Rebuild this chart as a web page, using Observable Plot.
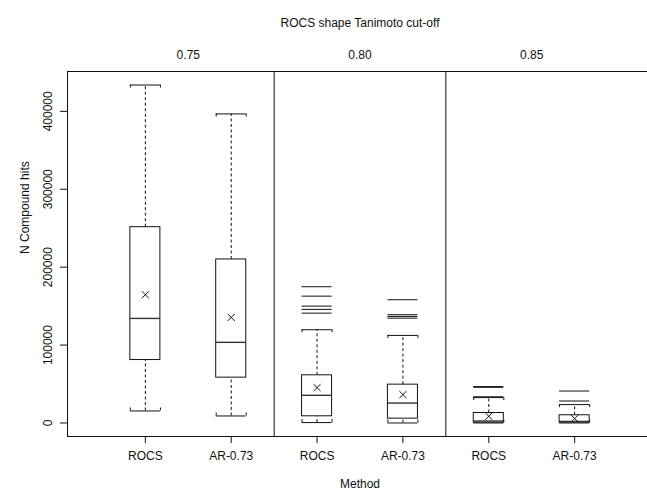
<!DOCTYPE html>
<html>
<head>
<meta charset="utf-8">
<script src="https://cdn.jsdelivr.net/npm/d3@7"></script>
<script src="https://cdn.jsdelivr.net/npm/@observablehq/plot@0.6"></script>
<style>
  html, body { margin: 0; padding: 0; background: #fff; overflow: hidden; width: 647px; height: 493px; }
  #chart { width: 647px; height: 493px; overflow: hidden; }
  #chart svg { display: block; max-width: none !important; width: 660px; height: 493px; }
</style>
</head>
<body>
<div id="chart"></div>
<script>
// ---- data ----
const methods   = ["ROCS", "AR-0.73", "ROCS", "AR-0.73", "ROCS", "AR-0.73"];
const cutoffs   = ["0.75", "0.80", "0.85"];
const positions = [1, 2, 3, 4, 5, 6];
const lowerWhisker = [15400, 9000, 500, 0, 0, 0];
const q1           = [80800, 58200, 8600, 5600, 400, 500];
const median       = [134200, 103500, 35500, 25600, 2500, 2000];
const q3           = [251300, 209900, 61200, 49200, 12800, 9900];
const upperWhisker = [433800, 396700, 119700, 112400, 32600, 23600];
const means        = [164600, 135500, 45400, 36400, 8600, 5600];
const outliers = [
  [],
  [],
  [174900, 162800, 150000, 145800, 141000],
  [158200, 139000, 136800, 134600],
  [46700, 45800, 33600],
  [41000, 28200]
];
const yTicks = [0, 100000, 200000, 300000, 400000];
const dividers = [2.5, 4.5];
const cutoffCenters = [1.5, 3.5, 5.5];

// ---- derived tables ----
const hw = 0.175; // half box width in position units
const boxes = positions.map((p, i) => ({
  p, x1: p - hw, x2: p + hw,
  lo: lowerWhisker[i], q1: q1[i], med: median[i], q3: q3[i], hi: upperWhisker[i], mean: means[i]
}));
const outs = positions.flatMap((p, i) => outliers[i].map(v => ({p, x1: p - hw, x2: p + hw, v})));
const stapleEnds = boxes.flatMap(b => [{x: b.x1, lo: b.lo, hi: b.hi}, {x: b.x2, lo: b.lo, hi: b.hi}]);

const allVals = [...lowerWhisker, ...upperWhisker, ...outliers.flat()];
const yMin = d3.min(allVals), yMax = d3.max(allVals);
const ext = 0.04 * (yMax - yMin);

const font = "Liberation Sans, Arial, Helvetica, sans-serif";
const ink = "#111";

const chart = Plot.plot({
  width: 660,
  height: 493,
  marginLeft: 67,
  marginRight: 8,
  marginTop: 71,
  marginBottom: 57,
  style: {fontFamily: font, fontSize: "12px", color: ink, background: "#fff", maxWidth: "none"},
  x: {domain: [0.093, 6.907], axis: null},
  y: {domain: [yMin - ext, yMax + ext], axis: null},
  marks: [
    // whiskers
    Plot.ruleX(boxes, {x: "p", y1: "q3", y2: "hi", stroke: ink, strokeWidth: 1, strokeDasharray: "3,2.5"}),
    Plot.ruleX(boxes, {x: "p", y1: "lo", y2: "q1", stroke: ink, strokeWidth: 1, strokeDasharray: "3,2.5"}),
    // staples
    Plot.ruleY(boxes, {y: "hi", x1: "x1", x2: "x2", stroke: ink, strokeWidth: 1}),
    Plot.ruleY(boxes, {y: "lo", x1: "x1", x2: "x2", stroke: ink, strokeWidth: 1}),
    Plot.ruleX(stapleEnds, {x: "x", y1: "hi", y2: "hi", insetBottom: -3, stroke: ink, strokeWidth: 1}),
    Plot.ruleX(stapleEnds, {x: "x", y1: "lo", y2: "lo", insetTop: -3, stroke: ink, strokeWidth: 1}),
    // boxes
    Plot.rect(boxes, {x1: "x1", x2: "x2", y1: "q1", y2: "q3", fill: "white", stroke: ink, strokeWidth: 1}),
    Plot.ruleY(boxes, {y: "med", x1: "x1", x2: "x2", stroke: "#333", strokeWidth: 1.4}),
    // means
    Plot.dot(boxes, {x: "p", y: "mean", symbol: "times", r: 3.3, stroke: ink, strokeWidth: 1}),
    // outliers
    Plot.ruleY(outs, {y: "v", x1: "x1", x2: "x2", stroke: ink, strokeWidth: 1}),
    // panel dividers and frame
    Plot.ruleX(dividers, {stroke: ink, strokeWidth: 1}),
    Plot.frame({stroke: ink, strokeWidth: 1}),
    // axes
    Plot.axisX(positions, {anchor: "bottom", tickSize: 7, tickPadding: 8, tickFormat: (d) => methods[d - 1], fontSize: 12, stroke: ink, fill: ink}),
    Plot.axisY(yTicks, {anchor: "left", tickSize: 7, tickPadding: 9, tickRotate: -90, tickFormat: (d) => String(d), fontSize: 12, stroke: ink, fill: ink}),
    // axis titles
    Plot.text(["Method"], {frameAnchor: "bottom", x: () => 3.5, dy: 51, fontSize: 12, fill: ink}),
    Plot.text(["N Compound hits"], {frameAnchor: "left", dx: -42, rotate: -90, fontSize: 12, fill: ink}),
    // top labels
    Plot.text(cutoffs, {x: (d, i) => cutoffCenters[i], frameAnchor: "top", dy: -21, fontSize: 12, fill: ink}),
    Plot.text(["ROCS shape Tanimoto cut-off"], {x: () => 3.5, frameAnchor: "top", dy: -53, fontSize: 12, fill: ink})
  ]
});
document.getElementById("chart").appendChild(chart);
</script>
</body>
</html>
